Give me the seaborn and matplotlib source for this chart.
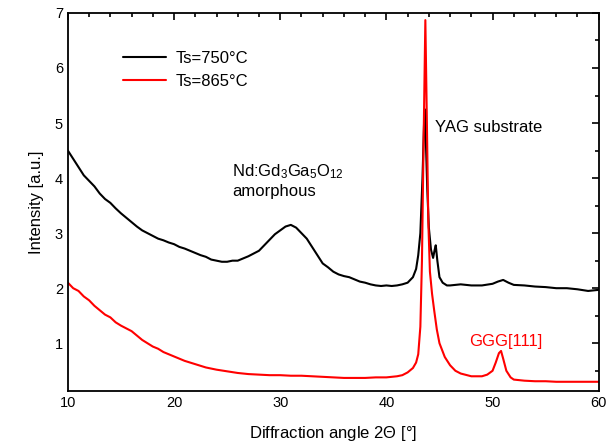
import matplotlib
matplotlib.use("Agg")
import matplotlib.pyplot as plt
import seaborn as sns
import pandas as pd
from matplotlib.ticker import MultipleLocator

# XRD scans (2theta in degrees, intensity in a.u.)
angle_750 = [10, 10.5, 11, 11.5, 12, 12.5, 13, 13.5, 14, 14.5, 15, 15.5, 16, 16.5, 17, 17.5,
             18, 18.5, 19, 19.5, 20, 20.5, 21, 21.5, 22, 22.5, 23, 23.5, 24, 24.5, 25, 25.5,
             26, 26.5, 27, 27.5, 28, 28.5, 29, 29.5, 30, 30.5, 31, 31.5, 32, 32.5, 33, 33.5,
             34, 34.5, 35, 35.5, 36, 36.5, 37, 37.5, 38, 38.5, 39, 39.5, 40, 40.5, 41, 41.5,
             42, 42.5, 42.8, 43.0, 43.2, 43.4, 43.55, 43.62, 43.7, 43.85, 44.0, 44.2, 44.4,
             44.55, 44.65, 44.8, 45.0, 45.3, 45.7, 46, 47, 48, 49, 50, 50.5, 51, 51.5, 52,
             53, 54, 55, 56, 57, 58, 59, 60]
intensity_750 = [4.5, 4.35, 4.2, 4.05, 3.95, 3.85, 3.72, 3.62, 3.55, 3.45, 3.36, 3.28, 3.2, 3.12,
                 3.05, 3.0, 2.95, 2.9, 2.87, 2.83, 2.8, 2.75, 2.72, 2.68, 2.64, 2.6, 2.57, 2.52,
                 2.5, 2.48, 2.48, 2.5, 2.5, 2.54, 2.58, 2.63, 2.68, 2.78, 2.88, 2.98, 3.05, 3.12,
                 3.15, 3.1, 3.0, 2.9, 2.75, 2.6, 2.45, 2.38, 2.3, 2.25, 2.22, 2.2, 2.16, 2.12,
                 2.1, 2.07, 2.05, 2.04, 2.05, 2.04, 2.05, 2.07, 2.1, 2.2, 2.35, 2.6, 3.0, 4.0,
                 5.0, 5.25, 4.8, 3.8, 3.1, 2.7, 2.55, 2.7, 2.78, 2.5, 2.2, 2.1, 2.05, 2.05,
                 2.07, 2.05, 2.05, 2.08, 2.12, 2.15, 2.1, 2.06, 2.05, 2.03, 2.02, 2.0, 2.0,
                 1.98, 1.95, 1.97]

angle_865 = [10, 10.5, 11, 11.5, 12, 12.5, 13, 13.5, 14, 14.5, 15, 15.5, 16, 16.5, 17, 17.5,
             18, 18.5, 19, 19.5, 20, 21, 22, 23, 24, 25, 26, 27, 28, 29, 30, 31, 32, 33, 34,
             35, 36, 37, 38, 39, 40, 41, 41.5, 42, 42.5, 42.8, 43.0, 43.2, 43.35, 43.5, 43.67,
             43.8, 43.95, 44.1, 44.3, 44.5, 44.75, 45, 45.5, 46, 46.5, 47, 48, 49, 49.5, 50,
             50.3, 50.6, 50.8, 51.0, 51.3, 51.7, 52, 53, 54, 55, 56, 57, 58, 59, 60]
intensity_865 = [2.1, 2.0, 1.95, 1.85, 1.78, 1.68, 1.6, 1.52, 1.47, 1.38, 1.32, 1.27, 1.22, 1.14,
                 1.06, 1.0, 0.94, 0.9, 0.84, 0.8, 0.76, 0.68, 0.62, 0.56, 0.52, 0.49, 0.46, 0.44,
                 0.43, 0.42, 0.42, 0.41, 0.41, 0.4, 0.39, 0.38, 0.37, 0.37, 0.37, 0.38, 0.38,
                 0.4, 0.42, 0.47, 0.55, 0.65, 0.8, 1.3, 2.5, 4.6, 6.87, 5.2, 3.2, 2.3, 1.9, 1.6,
                 1.25, 1.0, 0.75, 0.6, 0.5, 0.45, 0.4, 0.4, 0.43, 0.5, 0.65, 0.82, 0.86, 0.72,
                 0.5, 0.38, 0.34, 0.32, 0.31, 0.31, 0.3, 0.3, 0.3, 0.3, 0.3]

labels = ["Ts=750°C", "Ts=865°C"]

df = pd.concat([
    pd.DataFrame({"angle": angle_750, "intensity": intensity_750, "sample": labels[0]}),
    pd.DataFrame({"angle": angle_865, "intensity": intensity_865, "sample": labels[1]}),
])

sns.set_style("white")
plt.rcParams["font.family"] = ["Liberation Sans", "DejaVu Sans"]
plt.rcParams["mathtext.fontset"] = "custom"
plt.rcParams["mathtext.rm"] = "Liberation Sans"
plt.rcParams["mathtext.it"] = "Liberation Serif"
for key in ["text.color", "axes.labelcolor", "xtick.color", "ytick.color"]:
    plt.rcParams[key] = "black"

fig = plt.figure(figsize=(6.06, 4.46), dpi=100)
ax = fig.add_axes([0.112, 0.123, 0.876, 0.848])

sns.lineplot(data=df, x="angle", y="intensity", hue="sample", sort=False,
             palette=["black", "red"], linewidth=1.5, ax=ax, estimator=None)

ax.set_xlim(10, 60)
ax.set_ylim(0.13, 7)
ax.xaxis.set_major_locator(MultipleLocator(10))
ax.xaxis.set_minor_locator(MultipleLocator(2))
ax.yaxis.set_major_locator(MultipleLocator(1))
ax.yaxis.set_minor_locator(MultipleLocator(0.5))
ax.set_yticks([1, 2, 3, 4, 5, 6, 7])
ax.tick_params(which="both", direction="in", top=True, right=True, width=1.2, labelsize=10.5)
ax.tick_params(which="major", length=5)
ax.tick_params(which="minor", length=3)
for s in ax.spines.values():
    s.set_linewidth(1.3)
    s.set_color("black")

ax.set_xlabel(r"Diffraction angle $\mathit{2\Theta}$ [°]", fontsize=12, labelpad=10)
ax.set_ylabel("Intensity [a.u.]", fontsize=12, labelpad=8)

ax.legend(loc="upper left", bbox_to_anchor=(0.075, 0.94), frameon=False, fontsize=12,
          handlelength=2.6, handletextpad=0.6, labelspacing=0.5)

ax.text(25.5, 4.11, r"Nd:Gd$_3$Ga$_5$O$_{12}$", fontsize=12, va="center")
ax.text(25.5, 3.76, "amorphous", fontsize=12, va="center")
ax.text(44.6, 4.91, "YAG substrate", fontsize=12, va="center")
ax.text(47.8, 1.04, "GGG[111]", fontsize=12, va="center", color="red")

fig.savefig("out.png", dpi=100)
